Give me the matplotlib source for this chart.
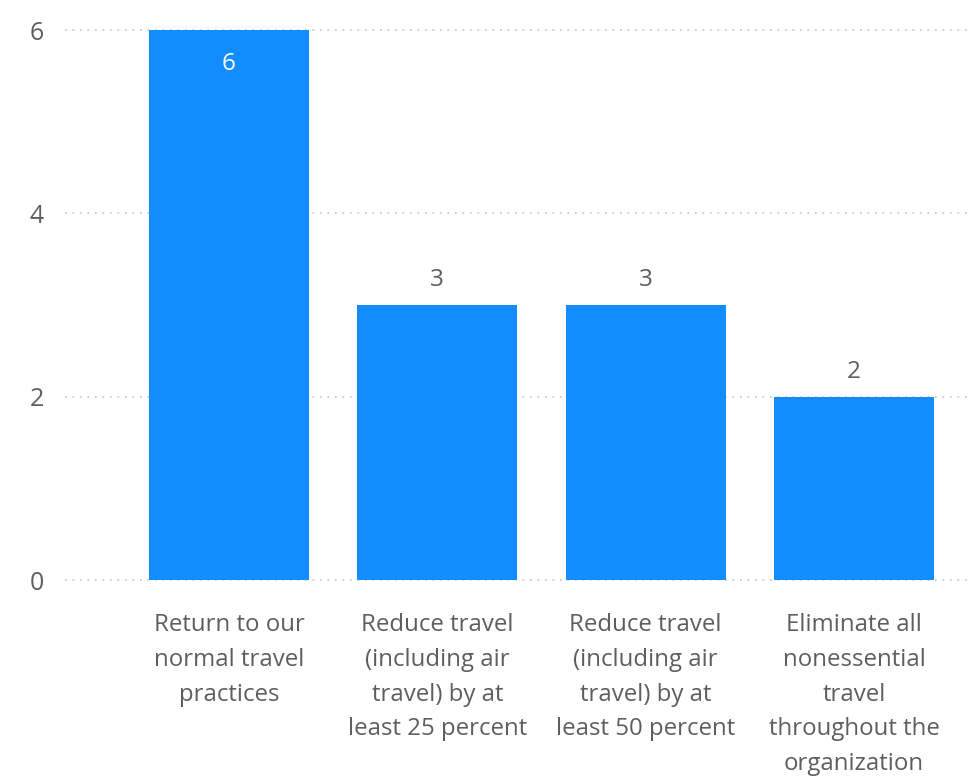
import matplotlib.pyplot as plt

categories = [
    'Return to our\nnormal travel\npractices',
    'Reduce travel\n(including air\ntravel) by at\nleast 25 percent',
    'Reduce travel\n(including air\ntravel) by at\nleast 50 percent',
    'Eliminate all\nnonessential\ntravel\nthroughout the\norganization',
]
counts = [6, 3, 3, 2]
y_ticks = [0, 2, 4, 6]

plt.rcParams['font.family'] = ['Open Sans', 'DejaVu Sans']
text_color = '#605E5C'
bar_color = '#118DFF'

fig = plt.figure(figsize=(9.72, 7.76), dpi=100)
# axes placed in pixel terms: left 65, right 972, bottom y=580, top y=30
ax = fig.add_axes([65 / 972, 1 - 580 / 776, (972 - 65) / 972, 550 / 776])

x = list(range(len(categories)))
bars = ax.bar(x, counts, width=0.768, color=bar_color, zorder=2)

ax.set_xlim(-0.787, 3.566)
ax.set_ylim(0, 6)
ax.set_yticks(y_ticks)
ax.set_xticks(x)
ax.set_xticklabels(categories, fontsize=17.3, color=text_color, linespacing=1.59)
ax.tick_params(axis='y', labelsize=18, labelcolor=text_color, length=0, pad=15)
ax.tick_params(axis='x', length=0, pad=24)

for yv in y_ticks:
    ax.axhline(yv, color='#C8C6C4', linestyle=(0, (1, 3.5)), linewidth=1.2, zorder=1, clip_on=False)

for s in ax.spines.values():
    s.set_visible(False)

for xi, v in zip(x, counts):
    if v == max(counts):
        ax.annotate(str(v), (xi, v), xytext=(0, -34), textcoords='offset pixels',
                    ha='center', va='center', fontsize=17.5, color='white')
    else:
        ax.annotate(str(v), (xi, v), xytext=(0, 25), textcoords='offset pixels',
                    ha='center', va='center', fontsize=17.5, color=text_color)

fig.savefig('out.png', dpi=100)
